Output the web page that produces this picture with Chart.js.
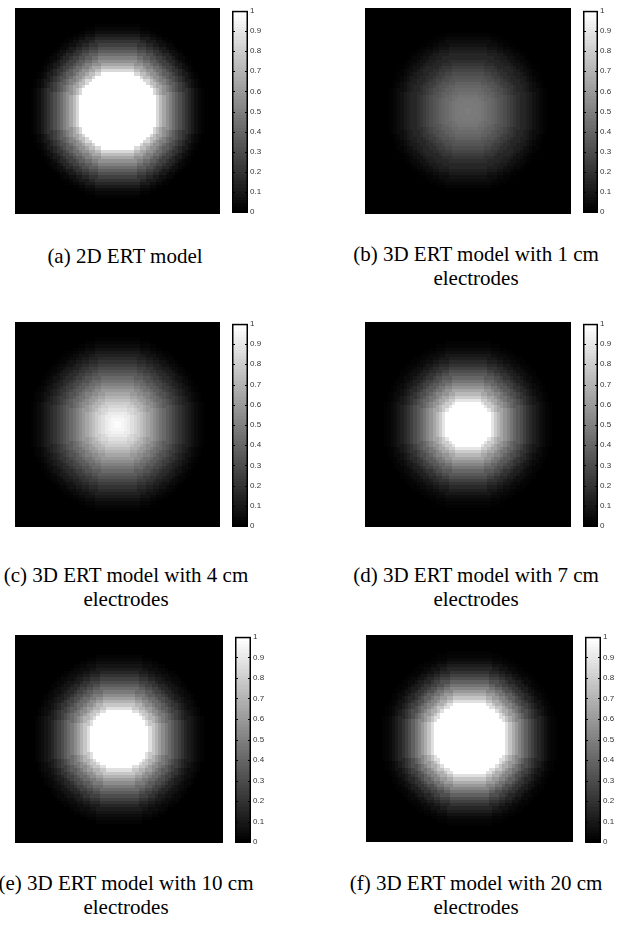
<!DOCTYPE html>
<html>
<head>
<meta charset="utf-8">
<script src="https://cdn.jsdelivr.net/npm/chart.js@4.4.0/dist/chart.umd.min.js"></script>
<style>
    body { margin: 0; background: #fff; }
    #fig { position: relative; width: 622px; height: 927px; overflow: hidden; }
    #fig canvas { position: absolute; }
    #fig canvas.map { filter: blur(0.6px); }
    .cap {
        position: absolute; width: 320px; text-align: center; white-space: nowrap;
        font-family: "Liberation Serif", "Times New Roman", serif; font-size: 21px; line-height: 24px; color: #000;
    }
</style>
</head>
<body>
<div id="fig"></div>
<script>
// Grey level, one value per cell of distance from the centre
const profileA = [1, 1, 1, 1, 1, 1, 1, 1, 1, 1, 1, 1, 1, 0.85, 0.74, 0.65, 0.57, 0.5, 0.43, 0.37, 0.31, 0.25, 0.2, 0.15, 0.1, 0.06, 0.03, 0.01];
const profileB = [0.49, 0.49, 0.48, 0.48, 0.47, 0.46, 0.44, 0.42, 0.4, 0.38, 0.35, 0.33, 0.3, 0.27, 0.24, 0.21, 0.18, 0.15, 0.15, 0.12, 0.1, 0.07, 0.05, 0.03, 0.015, 0.005, 0, 0];
const profileC = [1, 0.99, 0.97, 0.95, 0.92, 0.88, 0.84, 0.8, 0.75, 0.7, 0.65, 0.6, 0.55, 0.5, 0.45, 0.41, 0.36, 0.32, 0.28, 0.24, 0.2, 0.165, 0.13, 0.1, 0.07, 0.045, 0.025, 0.01];
const profileD = [1, 1, 1, 1, 1, 1, 1, 1, 0.9, 0.8, 0.72, 0.65, 0.58, 0.52, 0.46, 0.4, 0.35, 0.3, 0.25, 0.2, 0.16, 0.12, 0.09, 0.06, 0.04, 0.02, 0.01, 0];
const profileE = [1, 1, 1, 1, 1, 1, 1, 1, 1, 1, 0.88, 0.78, 0.7, 0.62, 0.55, 0.48, 0.42, 0.36, 0.3, 0.25, 0.2, 0.15, 0.11, 0.08, 0.05, 0.03, 0.015, 0];
const profileF = [1, 1, 1, 1, 1, 1, 1, 1, 1, 1, 1, 1, 0.88, 0.77, 0.68, 0.6, 0.52, 0.45, 0.38, 0.31, 0.25, 0.2, 0.15, 0.11, 0.07, 0.04, 0.02, 0.01];

const colorbarTicks = [0, 0.1, 0.2, 0.3, 0.4, 0.5, 0.6, 0.7, 0.8, 0.9, 1];

const captionA = ['(a) 2D ERT model'];
const captionB = ['(b) 3D ERT model with 1 cm', 'electrodes'];
const captionC = ['(c) 3D ERT model with 4 cm', 'electrodes'];
const captionD = ['(d) 3D ERT model with 7 cm', 'electrodes'];
const captionE = ['(e) 3D ERT model with 10 cm', 'electrodes'];
const captionF = ['(f) 3D ERT model with 20 cm', 'electrodes'];

const gridSize = 64;

// where each subfigure sits on the page
const panels = [
    { profile: profileA, caption: captionA, img: [15, 8, 205, 206], bar: [232, 10, 16, 203], cap: [125, 244] },
    { profile: profileB, caption: captionB, img: [365, 8, 206, 206], bar: [583, 10, 15, 203], cap: [476, 242] },
    { profile: profileC, caption: captionC, img: [15, 322, 205, 205], bar: [232, 323, 16, 204], cap: [126, 563] },
    { profile: profileD, caption: captionD, img: [365, 322, 206, 205], bar: [583, 323, 15, 204], cap: [476, 563] },
    { profile: profileE, caption: captionE, img: [15, 635, 208, 208], bar: [235, 636, 16, 207], cap: [126, 871] },
    { profile: profileF, caption: captionF, img: [366, 635, 207, 207], bar: [585, 636, 16, 207], cap: [476, 871] }
];

const fig = document.getElementById('fig');

function cellsFor(profile) {
    const cells = [];
    const c = gridSize / 2;
    for (let i = 0; i < gridSize; i++) {
        for (let j = 0; j < gridSize; j++) {
            const d = Math.round(Math.hypot(i + 0.5 - c, j + 0.5 - c));
            cells.push({ x: i, y: j, v: d < profile.length ? profile[d] : 0 });
        }
    }
    return cells;
}

// paints every cell as a grey square, placed through the x/y scales
const heatmapPlugin = {
    id: 'heatmap',
    beforeDatasetsDraw(chart) {
        const ctx = chart.ctx, xs = chart.scales.x, ys = chart.scales.y;
        chart.data.datasets[0].data.forEach(p => {
            const x0 = Math.round(xs.getPixelForValue(p.x)), x1 = Math.round(xs.getPixelForValue(p.x + 1));
            const y0 = Math.round(ys.getPixelForValue(p.y + 1)), y1 = Math.round(ys.getPixelForValue(p.y));
            const g = Math.round(p.v * 255);
            ctx.fillStyle = `rgb(${g},${g},${g})`;
            ctx.fillRect(x0, y0, x1 - x0, y1 - y0);
        });
    }
};

// grey colormap strip with a frame and small inner ticks
const colorbarPlugin = {
    id: 'colorbar',
    beforeDatasetsDraw(chart) {
        const ctx = chart.ctx, ys = chart.scales.y, a = chart.chartArea;
        const levels = 64;
        for (let k = 0; k < levels; k++) {
            const top = ys.getPixelForValue((k + 1) / levels), bottom = ys.getPixelForValue(k / levels);
            const g = Math.round(k / (levels - 1) * 255);
            ctx.fillStyle = `rgb(${g},${g},${g})`;
            ctx.fillRect(a.left, Math.floor(top), a.right - a.left, Math.ceil(bottom) - Math.floor(top));
        }
        ctx.save();
        ctx.strokeStyle = '#000';
        ctx.lineWidth = 1;
        colorbarTicks.forEach(v => {
            const y = Math.round(ys.getPixelForValue(v)) + 0.5;
            ctx.beginPath();
            ctx.moveTo(a.left, y); ctx.lineTo(a.left + 3, y);
            ctx.moveTo(a.right - 3, y); ctx.lineTo(a.right, y);
            ctx.stroke();
        });
        ctx.lineWidth = 1.5;
        ctx.strokeRect(a.left + 0.75, a.top + 0.75, a.right - a.left - 1.5, a.bottom - a.top - 1.5);
        ctx.restore();
    }
};

function addCanvas(left, top, w, h, cls) {
    const cv = document.createElement('canvas');
    cv.width = w; cv.height = h;
    cv.style.left = left + 'px'; cv.style.top = top + 'px';
    cv.style.width = w + 'px'; cv.style.height = h + 'px';
    if (cls) cv.className = cls;
    fig.appendChild(cv);
    return cv;
}

panels.forEach(p => {
    const [ix, iy, iw, ih] = p.img;
    new Chart(addCanvas(ix, iy, iw, ih, 'map'), {
        type: 'scatter',
        data: { datasets: [{ data: cellsFor(p.profile), pointRadius: 0 }] },
        options: {
            responsive: false, animation: false, events: [], devicePixelRatio: 1,
            layout: { padding: 0 },
            plugins: { legend: { display: false }, tooltip: { enabled: false } },
            scales: {
                x: { display: false, min: 0, max: gridSize },
                y: { display: false, min: 0, max: gridSize }
            }
        },
        plugins: [heatmapPlugin]
    });

    const [bx, by, bw, bh] = p.bar;
    const labelWidth = 22;
    new Chart(addCanvas(bx - 1, by - 6, bw + 1 + labelWidth, bh + 12), {
        type: 'scatter',
        data: { datasets: [{ data: [] }] },
        options: {
            responsive: false, animation: false, events: [], devicePixelRatio: 1,
            layout: { padding: { left: 1, top: 6, bottom: 6, right: 0 } },
            plugins: { legend: { display: false }, tooltip: { enabled: false } },
            scales: {
                x: { display: false },
                y: {
                    position: 'right', min: 0, max: 1,
                    afterBuildTicks: axis => { axis.ticks = colorbarTicks.map(v => ({ value: v })); },
                    afterFit: axis => { axis.width = labelWidth; },
                    grid: { display: false, drawTicks: false, tickLength: 0 },
                    border: { display: false },
                    ticks: {
                        padding: 2, color: '#333',
                        font: { family: 'Liberation Sans', size: 8 },
                        callback: v => String(v)
                    }
                }
            }
        },
        plugins: [colorbarPlugin]
    });

    const cap = document.createElement('div');
    cap.className = 'cap';
    cap.style.left = (p.cap[0] - 160) + 'px';
    cap.style.top = p.cap[1] + 'px';
    cap.innerHTML = p.caption.join('<br>');
    fig.appendChild(cap);
});
</script>
</body>
</html>
